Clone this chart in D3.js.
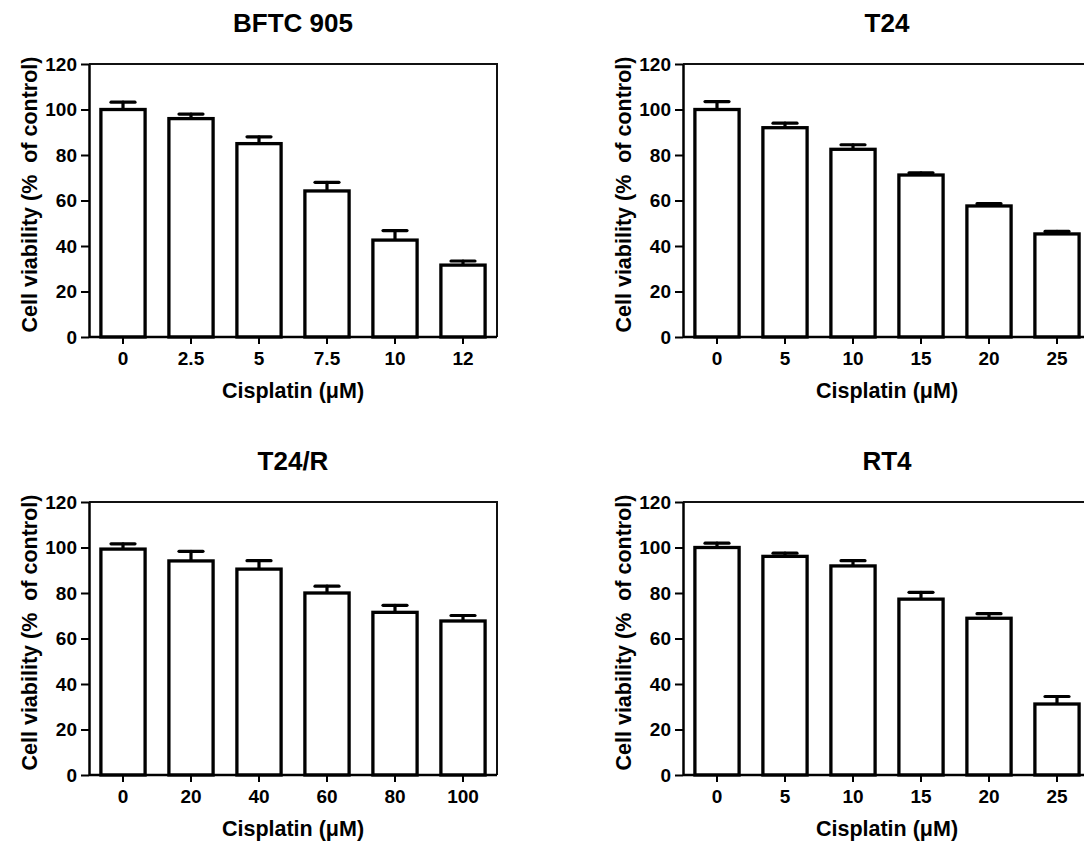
<!DOCTYPE html>
<html>
<head>
<meta charset="utf-8">
<script src="https://cdn.jsdelivr.net/npm/d3@7"></script>
<style>
  html, body { margin: 0; padding: 0; background: #fff; overflow: hidden; }
  svg { display: block; font-family: Arial, 'Liberation Sans', sans-serif; font-weight: bold; }
</style>
</head>
<body>
<svg id="chart" width="1084" height="846"></svg>
<script>
// Cisplatin doses (categories) per cell line
const bftcDoses = ['0', '2.5', '5', '7.5', '10', '12'];
const t24Doses = ['0', '5', '10', '15', '20', '25'];
const t24rDoses = ['0', '20', '40', '60', '80', '100'];
const rt4Doses = ['0', '5', '10', '15', '20', '25'];

// Cell viability, mean (% of control)
const bftcMean = [100, 96, 85, 64.2, 42.6, 31.6];
const t24Mean = [100, 92, 82.5, 71.2, 57.6, 45.3];
const t24rMean = [99.3, 94.1, 90.5, 80, 71.5, 67.7];
const rt4Mean = [100, 96.1, 91.9, 77.3, 68.9, 31.2];

// Error (SEM)
const bftcSem = [3.2, 2.0, 3.0, 3.8, 4.2, 1.8];
const t24Sem = [3.5, 2.0, 2.0, 1.0, 1.0, 1.1];
const t24rSem = [2.3, 4.2, 3.7, 3.0, 3.1, 2.4];
const rt4Sem = [1.9, 1.4, 2.3, 3.0, 2.0, 3.3];

const yTicks = [0, 20, 40, 60, 80, 100, 120];
const yLabel = 'Cell viability (%\u00a0 of control)';
const xLabel = 'Cisplatin (\u03bcM)';

const panels = [
  { title: 'BFTC 905', doses: bftcDoses, mean: bftcMean, sem: bftcSem, left: 89, top: 64 },
  { title: 'T24', doses: t24Doses, mean: t24Mean, sem: t24Sem, left: 683, top: 64 },
  { title: 'T24/R', doses: t24rDoses, mean: t24rMean, sem: t24rSem, left: 89, top: 502 },
  { title: 'RT4', doses: rt4Doses, mean: rt4Mean, sem: rt4Sem, left: 683, top: 502 }
];

const width = 408;
const height = 273;

const svg = d3.select('#chart');

panels.forEach(p => {
  const g = svg.append('g').attr('transform', `translate(${p.left},${p.top})`);

  const x = d3.scaleBand()
    .domain(p.doses)
    .range([0, width])
    .paddingInner(0.35)
    .paddingOuter(0.175);

  const y = d3.scaleLinear().domain([0, 120]).range([height, 0]);

  const rows = p.doses.map((d, i) => ({ dose: d, mean: p.mean[i], sem: p.sem[i] }));

  // box top and right
  g.append('path')
    .attr('d', `M0,${y(120)}H${width}V${height}`)
    .attr('fill', 'none')
    .attr('stroke', '#111')
    .attr('stroke-width', 2);

  // error bars (upper only)
  const err = g.append('g').attr('stroke', '#000').attr('stroke-width', 3.2).attr('stroke-linecap', 'round');
  err.selectAll('line.stem')
    .data(rows)
    .enter()
    .append('line')
    .attr('class', 'stem')
    .attr('x1', d => x(d.dose) + x.bandwidth() / 2)
    .attr('x2', d => x(d.dose) + x.bandwidth() / 2)
    .attr('y1', d => y(d.mean))
    .attr('y2', d => y(d.mean + d.sem));
  err.selectAll('line.cap')
    .data(rows)
    .enter()
    .append('line')
    .attr('class', 'cap')
    .attr('x1', d => x(d.dose) + x.bandwidth() / 2 - 12)
    .attr('x2', d => x(d.dose) + x.bandwidth() / 2 + 12)
    .attr('y1', d => y(d.mean + d.sem))
    .attr('y2', d => y(d.mean + d.sem));

  // bars
  g.selectAll('rect.bar')
    .data(rows)
    .enter()
    .append('rect')
    .attr('class', 'bar')
    .attr('x', d => x(d.dose))
    .attr('y', d => y(d.mean))
    .attr('width', x.bandwidth())
    .attr('height', d => height - y(d.mean))
    .attr('fill', '#fff')
    .attr('stroke', '#000')
    .attr('stroke-width', 3.3);

  // y axis
  const yAxis = g.append('g')
    .call(d3.axisLeft(y).tickValues(yTicks).tickSize(8).tickPadding(4).tickSizeOuter(0));
  yAxis.attr('font-size', 19).attr('font-family', null);
  yAxis.select('.domain').attr('stroke', '#000').attr('stroke-width', 2.5);
  yAxis.selectAll('.tick line').attr('stroke', '#000').attr('stroke-width', 2);
  yAxis.selectAll('.tick text').attr('fill', '#000');

  // x axis
  const xAxis = g.append('g')
    .attr('transform', `translate(0,${height})`)
    .call(d3.axisBottom(x).tickSize(7).tickPadding(8).tickSizeOuter(0));
  xAxis.attr('font-size', 19).attr('font-family', null);
  xAxis.select('.domain').attr('stroke', '#000').attr('stroke-width', 2.5)
    .attr('d', `M0,0H${width}`);
  xAxis.selectAll('.tick line').attr('stroke', '#000').attr('stroke-width', 2);
  xAxis.selectAll('.tick text').attr('fill', '#000');

  // x label
  g.append('text')
    .attr('x', width / 2)
    .attr('y', height + 61)
    .attr('text-anchor', 'middle')
    .style('font-size', '21.5px')
    .text(xLabel);

  // y label
  g.append('text')
    .attr('transform', 'rotate(-90)')
    .attr('x', -height / 2 + 6)
    .attr('y', -52)
    .attr('text-anchor', 'middle')
    .style('font-size', '21.5px')
    .text(yLabel);

  // title
  g.append('text')
    .attr('x', width / 2)
    .attr('y', -32)
    .attr('text-anchor', 'middle')
    .style('font-size', '26px')
    .text(p.title);
});
</script>
</body>
</html>
